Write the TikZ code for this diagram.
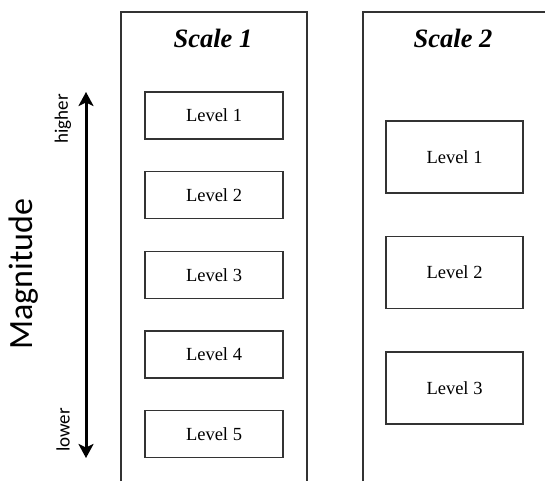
\documentclass[tikz,border=0pt]{standalone}
\usepackage{fontspec}
\setmainfont{Liberation Serif}
\newfontfamily\labelfont{Carlito}
\usetikzlibrary{arrows.meta}
\definecolor{edge}{HTML}{333333}
\begin{document}
\begin{tikzpicture}[x=1pt,y=-1pt,
  column/.style={draw=edge,line width=1.4pt},
  levelbox/.style={draw=edge,line width=1.4pt,fill=white,font=\fontsize{18.5}{20}\selectfont,inner sep=0pt},
  smallbox/.style={levelbox,minimum width=138pt,minimum height=47pt},
  bigbox/.style={levelbox,minimum width=137pt,minimum height=72pt},
  scaletitle/.style={font=\fontsize{26.5}{28}\selectfont\bfseries\itshape},
  sidelabel/.style={font=\labelfont\fontsize{19}{20}\selectfont,rotate=90},
  dir/.style={line width=3pt,{Stealth[length=14pt,width=15pt,inset=3.5pt]}-{Stealth[length=14pt,width=15pt,inset=3.5pt]}}]
\useasboundingbox (0,0) rectangle (545,481);

% open-bottomed columns
\draw[column] (121,481) -- (121,12) -- (307,12) -- (307,481);
\draw[column] (363,481) -- (363,12) -- (545,12);

% titles
\node[scaletitle] (t1) at (213,38) {Scale 1};
\node[scaletitle] (t2) at (453,38) {Scale 2};

% levels of the first scale
\node[smallbox] (a1) at (214,115.5) {Level 1};
\node[smallbox] (a2) at (214,195.2) {Level 2};
\node[smallbox] (a3) at (214,274.9) {Level 3};
\node[smallbox] (a4) at (214,354.5) {Level 4};
\node[smallbox] (a5) at (214,434.2) {Level 5};

% levels of the second scale
\node[bigbox] (b1) at (454.5,157) {Level 1};
\node[bigbox] (b2) at (454.5,272.5) {Level 2};
\node[bigbox] (b3) at (454.5,388) {Level 3};

% magnitude axis
\coordinate (top) at (86,92);
\coordinate (bottom) at (86,458);
\draw[dir] (bottom) -- (top);
\node[sidelabel] (hi) at (63,119) {higher};
\node[sidelabel] (lo) at (63,430) {lower};
\node[font=\labelfont\fontsize{34}{36}\selectfont,rotate=90] (mag) at (24,274) {Magnitude};
\end{tikzpicture}
\end{document}
